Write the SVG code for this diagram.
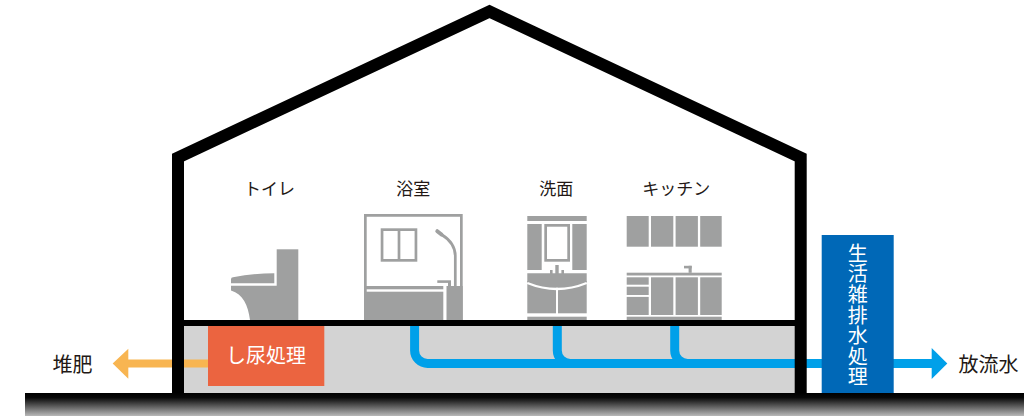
<svg xmlns="http://www.w3.org/2000/svg" width="1024" height="416" viewBox="0 0 1024 416">
  <defs>
    <linearGradient id="groundFade" x1="0" y1="0" x2="0" y2="1">
      <stop offset="0" stop-color="#000"/>
      <stop offset="0.2" stop-color="#080808"/>
      <stop offset="1" stop-color="#b8b8b8"/>
    </linearGradient>
    <style>
      .fx { fill: #9fa0a0; }
      .fxl { fill: none; stroke: #9fa0a0; stroke-width: 2.7; }
      .label { font-family: "Noto Sans CJK JP", "Noto Sans", sans-serif; fill: #231815; }
      .boxtxt { font-family: "Noto Sans CJK JP", "Noto Sans", sans-serif; fill: #fff; font-size: 20px; }
      .pipe { fill: none; stroke: #00a0e9; stroke-width: 9; }
    </style>
  </defs>

  <rect width="1024" height="416" fill="#fff"/>

  <!-- crawl space under the floor -->
  <rect id="crawlspace" x="184" y="326" width="611" height="67" fill="#d3d3d3"/>

  <!-- connectors: drain pipes and outflow arrows -->
  <g id="connectors">
    <path class="pipe" d="M414.6,322 V350.5 A13,13 0 0 0 427.6,363.5 H822"/>
    <path class="pipe" d="M557.3,322 V350.5 A13,13 0 0 0 570.3,363.5 H700"/>
    <path class="pipe" d="M674.7,322 V350.5 A13,13 0 0 0 687.7,363.5 H760"/>
    <!-- compost outflow -->
    <rect x="127" y="359.5" width="82" height="8" fill="#f8b551"/>
    <polygon points="112.7,363.5 128.3,348.7 128.3,378.7" fill="#f8b551"/>
    <!-- discharge outflow -->
    <rect x="893" y="359" width="40" height="9" fill="#00a0e9"/>
    <polygon points="947.3,363.5 931.7,348 931.7,379" fill="#00a0e9"/>
  </g>

  <!-- house outline -->
  <g id="house">
    <path d="M178,400 V157.5 L489.5,11.5 L800.7,157.5 V400" fill="none" stroke="#000" stroke-width="12" stroke-miterlimit="10"/>
    <rect x="178" y="320" width="622" height="6" fill="#000"/>
  </g>

  <!-- toilet -->
  <g id="toilet">
    <text class="label" x="269.5" y="195" font-size="17" text-anchor="middle">トイレ</text>
    <rect class="fx" x="276.7" y="249.3" width="21.6" height="70.7"/>
    <path class="fx" d="M233,277.3 Q254,273.3 274.3,273.3 V283.3 H231 V279.3 Q231,277.5 233,277.3 Z"/>
    <path class="fx" d="M231,285.7 H277 V320 H250 C248,305 243,294 231,290.5 Z"/>
  </g>

  <!-- bathroom -->
  <g id="bathroom">
    <text class="label" x="413.3" y="195" font-size="17" text-anchor="middle">浴室</text>
    <path class="fxl" d="M365.35,320 V215.35 H461.35 V320"/>
    <rect class="fxl" x="382.05" y="229.65" width="33.9" height="30.7"/>
    <line class="fxl" x1="399" y1="229.65" x2="399" y2="260.35"/>
    <line x1="437.3" y1="231.2" x2="441.5" y2="234.5" stroke="#9fa0a0" stroke-width="4" stroke-linecap="round"/>
    <path class="fxl" d="M441.5,234.5 Q455.3,243 455.3,256 V286"/>
    <rect class="fx" x="437.3" y="280.3" width="13.7" height="2.6"/>
    <rect class="fx" x="448" y="281" width="3" height="6"/>
    <rect class="fx" x="446.5" y="286" width="16.2" height="34"/>
    <rect class="fx" x="364" y="286" width="79.3" height="3.3"/>
    <rect class="fx" x="364" y="291.7" width="79.3" height="28.3"/>
  </g>

  <!-- washstand -->
  <g id="washstand">
    <text class="label" x="556.3" y="195" font-size="17" text-anchor="middle">洗面</text>
    <rect class="fx" x="527.3" y="216" width="59.4" height="5"/>
    <rect class="fx" x="527.3" y="224" width="14.4" height="46"/>
    <rect class="fx" x="572.3" y="224" width="14.4" height="46"/>
    <rect class="fxl" x="545.65" y="225.35" width="23" height="35"/>
    <rect class="fx" x="555.3" y="265" width="3.4" height="9"/>
    <rect class="fx" x="550" y="270" width="2.6" height="4"/>
    <rect class="fx" x="561.4" y="270" width="2.6" height="4"/>
    <rect class="fx" x="527.3" y="281" width="28.7" height="32.3"/>
    <rect class="fx" x="558" y="281" width="28.7" height="32.3"/>
    <path class="fx" d="M527.3,273.3 H586.7 V282 Q557,293.5 527.3,282 Z"/>
    <path d="M527.3,283 Q557,295 586.7,283" fill="none" stroke="#fff" stroke-width="2.4"/>
    <rect class="fx" x="527.3" y="316.7" width="59.4" height="3.3"/>
  </g>

  <!-- kitchen -->
  <g id="kitchen">
    <text class="label" x="676.3" y="195" font-size="17" text-anchor="middle">キッチン</text>
    <rect class="fx" x="626.7" y="216" width="22" height="30.7"/>
    <rect class="fx" x="651" y="216" width="22.3" height="30.7"/>
    <rect class="fx" x="675.6" y="216" width="22.3" height="30.7"/>
    <rect class="fx" x="700.2" y="216" width="21.5" height="30.7"/>
    <rect class="fx" x="684" y="265.8" width="7.7" height="2.6"/>
    <rect class="fx" x="688.6" y="265.8" width="3.1" height="7"/>
    <rect class="fx" x="626.7" y="272.7" width="95" height="2.8"/>
    <rect class="fx" x="626.7" y="277.3" width="22" height="7.4"/>
    <rect class="fx" x="626.7" y="286.7" width="22" height="8.3"/>
    <rect class="fx" x="626.7" y="296.9" width="22" height="18.1"/>
    <rect class="fx" x="651" y="277.3" width="22.3" height="37.7"/>
    <rect class="fx" x="675.6" y="277.3" width="22.3" height="37.7"/>
    <rect class="fx" x="700.2" y="277.3" width="21.5" height="37.7"/>
    <rect class="fx" x="626.7" y="316.7" width="95" height="3.3"/>
  </g>

  <!-- night-soil treatment -->
  <g id="night-soil">
    <rect x="208" y="326" width="116.3" height="60" fill="#eb6440"/>
    <text class="boxtxt" x="266" y="362.5" text-anchor="middle">し尿処理</text>
  </g>

  <!-- greywater treatment, label set vertically -->
  <g id="greywater">
    <rect x="821.7" y="235" width="72" height="158" fill="#0068b7"/>
    <text class="boxtxt" x="857.7" y="243.3" writing-mode="vertical-rl" letter-spacing="0.6">生活雑排水処理</text>
  </g>

  <!-- outflow labels -->
  <g id="compost">
    <text class="label" x="72.5" y="371.5" font-size="20" text-anchor="middle">堆肥</text>
  </g>
  <g id="discharge">
    <text class="label" x="988.5" y="371.5" font-size="20" text-anchor="middle">放流水</text>
  </g>

  <!-- ground -->
  <rect id="ground" x="25" y="393" width="999" height="23" fill="url(#groundFade)"/>
</svg>
